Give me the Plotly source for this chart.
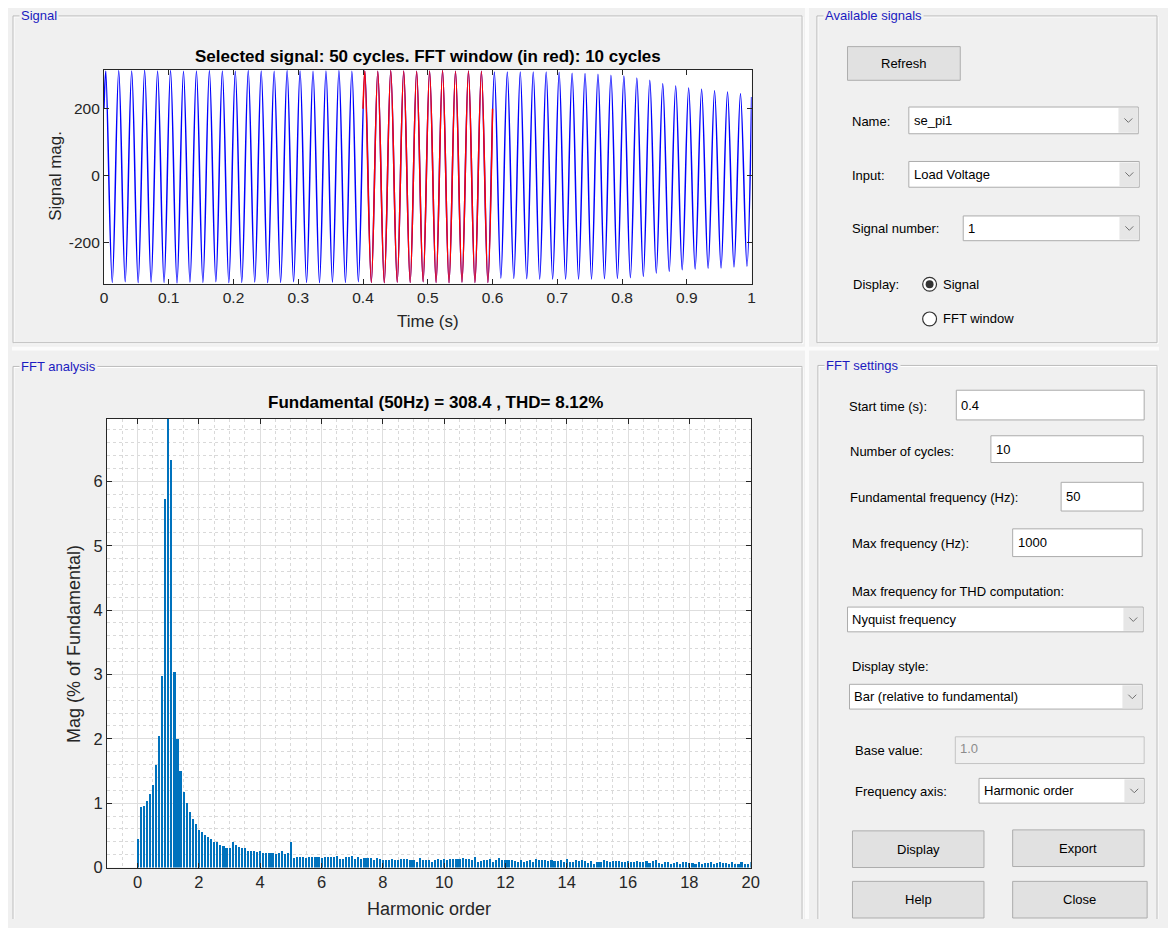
import plotly.graph_objects as go

# The page keeps the browser's 8 px body margin on every side, so the figure is
# sized to fit inside it (no scrolling) and positions are given in window pixels.
WIN_W, WIN_H = 1176, 936
OFF = 8
FW, FH = WIN_W - 2 * OFF, WIN_H - 2 * OFF
LIM_X, LIM_Y = OFF + FW, OFF + FH
FONT = "Liberation Sans, Arial, sans-serif"

# ---------------- data ----------------
fundamental_hz = 50
first_peak_time = 0.0028          # s, time of the first positive peak
signal_start_value = 200
signal_end_value = 235
signal_peaks = [312, 314, 313, 315, 313, 314, 312, 313, 314, 313,
                312, 314, 313, 312, 314, 313, 312, 313, 314, 312,
                313, 312, 314, 313, 312, 313, 314, 312, 313, 312,
                310, 310, 310, 310, 310, 309, 306, 305, 303, 300,
                298, 292, 285, 275, 268, 262, 258, 254, 250, 245]
signal_troughs = [-318, -316, -319, -317, -318, -320, -317, -318, -316, -319,
                  -318, -317, -319, -318, -316, -318, -319, -317, -318, -316,
                  -318, -319, -317, -318, -316, -318, -319, -317, -318, -318,
                  -305, -306, -307, -308, -308, -308, -308, -308, -307, -306,
                  -304, -300, -290, -285, -280, -278, -276, -275, -272, -270]
fft_window_start = 0.4
fft_window_end = 0.6
window_start_value = 200
window_end_value = 200

harmonic_orders = [k / 10 for k in range(201)]
mag_percent = [
    0.45, 0.94, 0.96, 1.04, 1.15, 1.29, 1.59, 2.04, 2.97, 5.72,
    100.0, 6.34, 3.04, 2.00, 1.50, 1.18, 1.00, 0.86, 0.76, 0.67,
    0.59, 0.55, 0.51, 0.48, 0.45, 0.40, 0.39, 0.35, 0.34, 0.31,
    0.31, 0.39, 0.35, 0.32, 0.30, 0.31, 0.26, 0.25, 0.25, 0.24,
    0.25, 0.22, 0.22, 0.22, 0.22, 0.21, 0.22, 0.25, 0.21, 0.23,
    0.40, 0.15, 0.17, 0.17, 0.17, 0.15, 0.17, 0.17, 0.17, 0.17,
    0.15, 0.17, 0.17, 0.16, 0.17, 0.18, 0.14, 0.13, 0.16, 0.16,
    0.18, 0.13, 0.16, 0.13, 0.15, 0.15, 0.15, 0.12, 0.15, 0.13,
    0.11, 0.12, 0.12, 0.13, 0.12, 0.11, 0.14, 0.14, 0.14, 0.12,
    0.11, 0.09, 0.15, 0.11, 0.12, 0.12, 0.09, 0.12, 0.14, 0.12,
    0.14, 0.11, 0.14, 0.13, 0.14, 0.14, 0.15, 0.13, 0.13, 0.11,
    0.16, 0.09, 0.10, 0.12, 0.11, 0.13, 0.08, 0.12, 0.15, 0.12,
    0.11, 0.12, 0.11, 0.10, 0.09, 0.11, 0.08, 0.10, 0.12, 0.08,
    0.13, 0.12, 0.12, 0.12, 0.10, 0.11, 0.10, 0.10, 0.11, 0.08,
    0.13, 0.08, 0.09, 0.11, 0.10, 0.11, 0.10, 0.07, 0.10, 0.06,
    0.08, 0.09, 0.12, 0.10, 0.09, 0.10, 0.10, 0.10, 0.09, 0.09,
    0.10, 0.09, 0.09, 0.10, 0.08, 0.09, 0.10, 0.07, 0.10, 0.11,
    0.07, 0.06, 0.08, 0.09, 0.06, 0.07, 0.09, 0.05, 0.08, 0.09,
    0.07, 0.07, 0.06, 0.08, 0.05, 0.07, 0.07, 0.09, 0.06, 0.07,
    0.08, 0.07, 0.07, 0.06, 0.08, 0.06, 0.05, 0.08, 0.06, 0.06,
    0.09]
mag_ylim_top = 6.97

signal_ticks = [0, 0.1, 0.2, 0.3, 0.4, 0.5, 0.6, 0.7, 0.8, 0.9, 1]
signal_tick_text = ["0", "0.1", "0.2", "0.3", "0.4", "0.5", "0.6", "0.7", "0.8", "0.9", "1"]
signal_yticks = [-200, 0, 200]
signal_ytick_text = ["-200", "0", "200"]
harm_ticks = [0, 2, 4, 6, 8, 10, 12, 14, 16, 18, 20]
mag_ticks = [0, 1, 2, 3, 4, 5, 6]

title_signal = "Selected signal: 50 cycles. FFT window (in red): 10 cycles"
title_fft = "Fundamental (50Hz) = 308.4 , THD= 8.12%"

# ---------------- waveform through the read extremes ----------------
period = 1.0 / fundamental_hz
ts = [0.0]
vs = [signal_start_value]
for k in range(len(signal_peaks)):
    ts.append(first_peak_time + k * period)
    vs.append(signal_peaks[k])
    ts.append(first_peak_time + (k + 0.5) * period)
    vs.append(signal_troughs[k])
ts.append(1.0)
vs.append(signal_end_value)

red_t = [fft_window_start] + [t for t in ts if fft_window_start < t < fft_window_end] + [fft_window_end]
red_v = [window_start_value] + [v for t, v in zip(ts, vs) if fft_window_start < t < fft_window_end] + [window_end_value]

fig = go.Figure()
fig.add_trace(go.Scatter(x=ts, y=vs, mode="lines",
                         line=dict(color="#0000ff", width=1.5, shape="spline", smoothing=1.0),
                         xaxis="x", yaxis="y", showlegend=False, hoverinfo="skip"))
fig.add_trace(go.Scatter(x=red_t, y=red_v, mode="lines",
                         line=dict(color="#ff0000", width=1.5, shape="spline", smoothing=1.0),
                         xaxis="x", yaxis="y", showlegend=False, hoverinfo="skip"))
fig.add_trace(go.Bar(x=harmonic_orders, y=mag_percent, width=0.07,
                     marker=dict(color="#0072BD", line=dict(width=0)),
                     xaxis="x2", yaxis="y2", showlegend=False, hoverinfo="skip"))

# ---------------- helpers for GUI (window pixel coordinates) ----------------
shapes = []
annotations = []


def X(p):
    return (p - OFF) / FW


def Y(p):
    return 1 - (p - OFF) / FH


def rect(x0, y0, x1, y1, fill="rgba(0,0,0,0)", line="#adadad", lw=1, layer="above"):
    shapes.append(dict(type="rect", xref="paper", yref="paper",
                       x0=X(x0), x1=X(x1), y0=Y(y1), y1=Y(y0),
                       fillcolor=fill, line=dict(color=line, width=lw), layer=layer))


def path(points, color, lw=1, layer="above", closed=False):
    d = "M " + " L ".join("{} {}".format(X(a), Y(b)) for a, b in points)
    if closed:
        d += " Z"
    shapes.append(dict(type="path", xref="paper", yref="paper", path=d,
                       line=dict(color=color, width=lw), layer=layer))


def text(x, y, s, size=13, color="#000000", xanchor="left", bold=False, bg=None, angle=0, family=FONT):
    if bold:
        s = "<b>" + s + "</b>"
    d = dict(x=X(x), y=Y(y), xref="paper", yref="paper", text=s, showarrow=False,
             xanchor=xanchor, yanchor="middle", textangle=angle,
             font=dict(family=family, size=size, color=color))
    if bg:
        d["bgcolor"] = bg
        d["borderpad"] = 1
    annotations.append(d)


def chevron(cx, cy, color="#707070"):
    path([(cx - 4, cy - 2), (cx, cy + 2), (cx + 4, cy - 2)], color)


def dropdown(x0, y0, x1, y1, s):
    rect(x0, y0, x1, y1, fill="#ffffff", line="#acacac")
    rect(x1 - 20, y0 + 1, x1 - 1, y1 - 1, fill="#e6e6e6", line="#e6e6e6", lw=0)
    chevron(x1 - 10, (y0 + y1) / 2)
    text(x0 + 3, (y0 + y1) / 2, s)


def editbox(x0, y0, x1, y1, s, disabled=False):
    if disabled:
        rect(x0, y0, x1, y1, fill="#f0f0f0", line="#c4c4c4")
        text(x0 + 3, y0 + 12, s, color="#8c8c8c")
    else:
        rect(x0, y0, x1, y1, fill="#ffffff", line="#ababab")
        text(x0 + 3, (y0 + y1) / 2, s)


def button(x0, y0, x1, y1, s):
    rect(x0, y0, x1, y1, fill="#e1e1e1", line="#adadad")
    text((x0 + x1) / 2, (y0 + y1) / 2, s, xanchor="center")


def panel(x0, y0, x1, y1, title):
    for off, col in ((1, "#ffffff"), (0, "#bdbdbd")):
        a, b = x0 + off, y0 + off
        c, d = min(x1 + off, LIM_X - 1), min(y1 + off, LIM_Y)
        if d >= LIM_Y:
            path([(a, LIM_Y), (a, b), (c, b), (c, LIM_Y)], col, layer="below")
        else:
            path([(a, b), (c, b), (c, d), (a, d)], col, layer="below", closed=True)
    text(x0 + 6, y0, title, size=13, color="#1b1bc0", bg="#f0f0f0")


# light separators between the panel areas
rect(810, OFF, 814, LIM_Y, fill="#fbfbfb", line="#fbfbfb", lw=0, layer="below")
rect(OFF, 350, LIM_X, 354, fill="#fbfbfb", line="#fbfbfb", lw=0, layer="below")

panel(9, 16, 807, 346, "Signal")
panel(822, 16, 1166, 346, "Available signals")
panel(9, 370, 807, WIN_H, "FFT analysis")
panel(823, 369, 1166, WIN_H, "FFT settings")

# Available signals widgets
button(853, 47, 967, 81, "Refresh")
text(856, 123, "Name:")
dropdown(915, 108, 1147, 135, "se_pi1")
text(856, 177, "Input:")
dropdown(915, 163, 1148, 189, "Load Voltage")
text(856, 231, "Signal number:")
dropdown(970, 218, 1148, 243, "1")
text(857, 287, "Display:")
shapes.append(dict(type="circle", xref="paper", yref="paper", x0=X(929), x1=X(943), y0=Y(294), y1=Y(280),
                   fillcolor="#ffffff", line=dict(color="#333333", width=1.2), layer="above"))
shapes.append(dict(type="circle", xref="paper", yref="paper", x0=X(932), x1=X(940), y0=Y(291), y1=Y(283),
                   fillcolor="#333333", line=dict(color="#333333", width=0), layer="above"))
text(948, 287, "Signal")
shapes.append(dict(type="circle", xref="paper", yref="paper", x0=X(929), x1=X(943), y0=Y(329), y1=Y(315),
                   fillcolor="#ffffff", line=dict(color="#333333", width=1.2), layer="above"))
text(948, 322, "FFT window")

# FFT settings widgets
text(852, 410, "Start time (s):")
editbox(963, 394, 1153, 424, "0.4")
text(853, 456, "Number of cycles:")
editbox(998, 440, 1152, 467, "10")
text(853, 502, "Fundamental frequency (Hz):")
editbox(1069, 487, 1152, 516, "50")
text(856, 549, "Max frequency (Hz):")
editbox(1020, 534, 1151, 562, "1000")
text(856, 597, "Max frequency for THD computation:")
dropdown(853, 613, 1152, 638, "Nyquist frequency")
text(855, 673, "Display style:")
dropdown(855, 691, 1151, 716, "Bar (relative to fundamental)")
text(859, 758, "Base value:")
editbox(962, 744, 1153, 771, "1.0", disabled=True)
text(859, 799, "Frequency axis:")
dropdown(986, 786, 1153, 811, "Harmonic order")
button(858, 839, 991, 876, "Display")
button(1020, 838, 1153, 875, "Export")
button(858, 890, 991, 927, "Help")
button(1020, 890, 1156, 927, "Close")

# chart titles and axis labels
AX = "#262626"
text(428.5, 57, title_signal, size=17, color="#000000", xanchor="center", bold=True)
text(436, 406, title_fft, size=17, color="#000000", xanchor="center", bold=True)
text(52, 178, "Signal mag.", size=17, color=AX, xanchor="center", angle=-90)
text(429, 325, "Time (s)", size=17, color=AX, xanchor="center")
text(70, 650, "Mag (% of Fundamental)", size=18, color=AX, xanchor="center", angle=-90)
text(430, 918, "Harmonic order", size=18, color=AX, xanchor="center")

axis_common = dict(showline=True, linecolor=AX, linewidth=1, mirror="ticks", ticks="inside",
                   ticklen=5, tickcolor=AX, zeroline=False, fixedrange=True)

fig.update_layout(
    width=FW, height=FH,
    margin=dict(l=0, r=0, t=0, b=0),
    paper_bgcolor="#f0f0f0",
    plot_bgcolor="#ffffff",
    font=dict(family=FONT, color=AX),
    showlegend=False,
    bargap=0,
    xaxis=dict(domain=[X(101), X(756)], anchor="y", range=[0, 1],
               tickvals=signal_ticks, ticktext=signal_tick_text, showgrid=False,
               tickfont=dict(size=15.5, color=AX), **axis_common),
    yaxis=dict(domain=[Y(286.5), Y(70.5)], anchor="x", range=[-322, 316],
               tickvals=signal_yticks, ticktext=signal_ytick_text, showgrid=False,
               tickfont=dict(size=15.5, color=AX), **axis_common),
    xaxis2=dict(domain=[X(104), X(755)], anchor="y2", range=[-1, 20],
                tickvals=harm_ticks, showgrid=True, gridcolor="#dedede", gridwidth=1,
                minor=dict(dtick=0.5, tick0=0, showgrid=True, gridcolor="#d9d9d9",
                           griddash="dot", gridwidth=1, ticks=""),
                tickfont=dict(size=16.5, color=AX), **axis_common),
    yaxis2=dict(domain=[Y(876), Y(423)], anchor="x2", range=[0, mag_ylim_top],
                tickvals=mag_ticks, showgrid=True, gridcolor="#dedede", gridwidth=1,
                minor=dict(dtick=0.2, tick0=0, showgrid=True, gridcolor="#d9d9d9",
                           griddash="dot", gridwidth=1, ticks=""),
                tickfont=dict(size=16.5, color=AX), **axis_common),
    shapes=shapes,
    annotations=annotations,
)

fig.write_html("out.html", config={"displayModeBar": False})
